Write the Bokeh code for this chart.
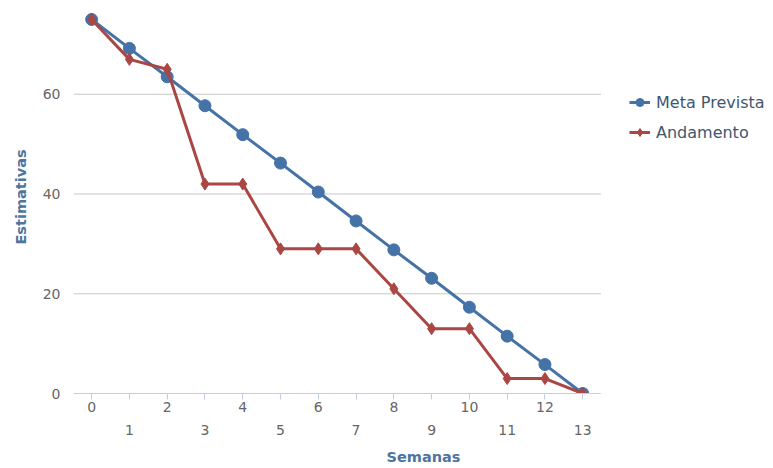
from bokeh.plotting import figure
from bokeh.models import (FixedTicker, LinearAxis, Range1d, Legend, LegendItem,
                          ColumnDataSource)
from bokeh.embed import file_html
from bokeh.resources import INLINE

semanas = list(range(14))
meta_prevista = [75, 69.2, 63.5, 57.7, 51.9, 46.2, 40.4, 34.6, 28.8, 23.1, 17.3, 11.5, 5.8, 0]
andamento = [75, 67, 65, 42, 42, 29, 29, 29, 21, 13, 13, 3, 3, 0]
y_ticks = [0, 20, 40, 60]
odd_ticks = [1, 3, 5, 7, 9, 11, 13]

FONT = "DejaVu Sans"
BLUE = "#4572A7"
RED = "#AA4643"

# plotting area spans the categories with half-category padding
X_MIN, X_MAX = -0.48, 13.48
X_VIEW_END = 18.05  # extra room on the right for the legend

p = figure(width=773, height=468, output_backend="svg", toolbar_location=None,
           x_range=Range1d(X_MIN, X_VIEW_END), y_range=Range1d(0, 78.8),
           min_border_left=73, min_border_right=0, min_border_top=0,
           min_border_bottom=75, x_axis_location=None)
p.outline_line_color = None
p.background_fill_color = "white"
p.xgrid.grid_line_color = None
p.ygrid.grid_line_color = None

# horizontal grid lines limited to the category span
p.segment(x0=[X_MIN] * len(y_ticks), x1=[X_MAX] * len(y_ticks), y0=y_ticks, y1=y_ticks,
          line_color="#C8C8C8", line_width=1, level="underlay")

src = ColumnDataSource(dict(x=semanas, meta=meta_prevista, anda=andamento))

l1 = p.line("x", "meta", source=src, line_color=BLUE, line_width=3)
m1 = p.scatter("x", "meta", source=src, marker="circle", size=12,
               fill_color=BLUE, line_color=BLUE)
l2 = p.line("x", "anda", source=src, line_color=RED, line_width=3)
m2 = p.scatter("x", "anda", source=src, marker="diamond", size=12,
               fill_color=RED, line_color=RED)

# y axis
p.yaxis.ticker = FixedTicker(ticks=y_ticks)
p.yaxis.axis_line_color = None
p.yaxis.major_tick_line_color = None
p.yaxis.minor_tick_line_color = None
p.yaxis.major_label_text_font = FONT
p.yaxis.major_label_text_font_size = "14px"
p.yaxis.major_label_text_color = "#666666"
p.yaxis.major_label_standoff = 7
p.yaxis.axis_label = "Estimativas"
p.yaxis.axis_label_text_font = FONT
p.yaxis.axis_label_text_font_size = "14.5px"
p.yaxis.axis_label_text_font_style = "bold"
p.yaxis.axis_label_text_color = "#4d759e"
p.yaxis.axis_label_standoff = 11

# x axis (even labels with all tick marks)
xa1 = LinearAxis(ticker=FixedTicker(ticks=semanas), bounds=(X_MIN, X_MAX))
xa1.major_label_overrides = {i: (str(i) if i % 2 == 0 else "") for i in semanas}
xa1.axis_line_color = "#C0D0E0"
xa1.major_tick_line_color = "#C0D0E0"
xa1.major_tick_out = 6
xa1.major_tick_in = 0
xa1.minor_tick_line_color = None
xa1.major_label_text_font = FONT
xa1.major_label_text_font_size = "14px"
xa1.major_label_text_color = "#666666"
xa1.major_label_standoff = 2
p.add_layout(xa1, "below")

# x axis (odd labels, second row)
xa2 = LinearAxis(ticker=FixedTicker(ticks=odd_ticks))
xa2.axis_line_color = None
xa2.major_tick_line_color = None
xa2.minor_tick_line_color = None
xa2.major_tick_out = 0
xa2.major_tick_in = 0
xa2.major_label_text_font = FONT
xa2.major_label_text_font_size = "14px"
xa2.major_label_text_color = "#666666"
xa2.major_label_standoff = 10
xa2.axis_label = "Semanas"
xa2.axis_label_text_font = FONT
xa2.axis_label_text_font_size = "14.5px"
xa2.axis_label_text_font_style = "bold"
xa2.axis_label_text_color = "#4d759e"
xa2.axis_label_standoff = 11
p.add_layout(xa2, "below")

legend = Legend(items=[LegendItem(label="Meta Prevista", renderers=[l1, m1]),
                       LegendItem(label="Andamento", renderers=[l2, m2])],
                location=(556, 251), margin=0, padding=10, spacing=10,
                glyph_width=21, glyph_height=20, label_standoff=6,
                border_line_color=None, background_fill_alpha=0,
                label_text_font=FONT, label_text_font_size="16px",
                label_text_color="#3E576F")
p.add_layout(legend, "center")

open("out.html", "w").write(file_html(p, INLINE))
